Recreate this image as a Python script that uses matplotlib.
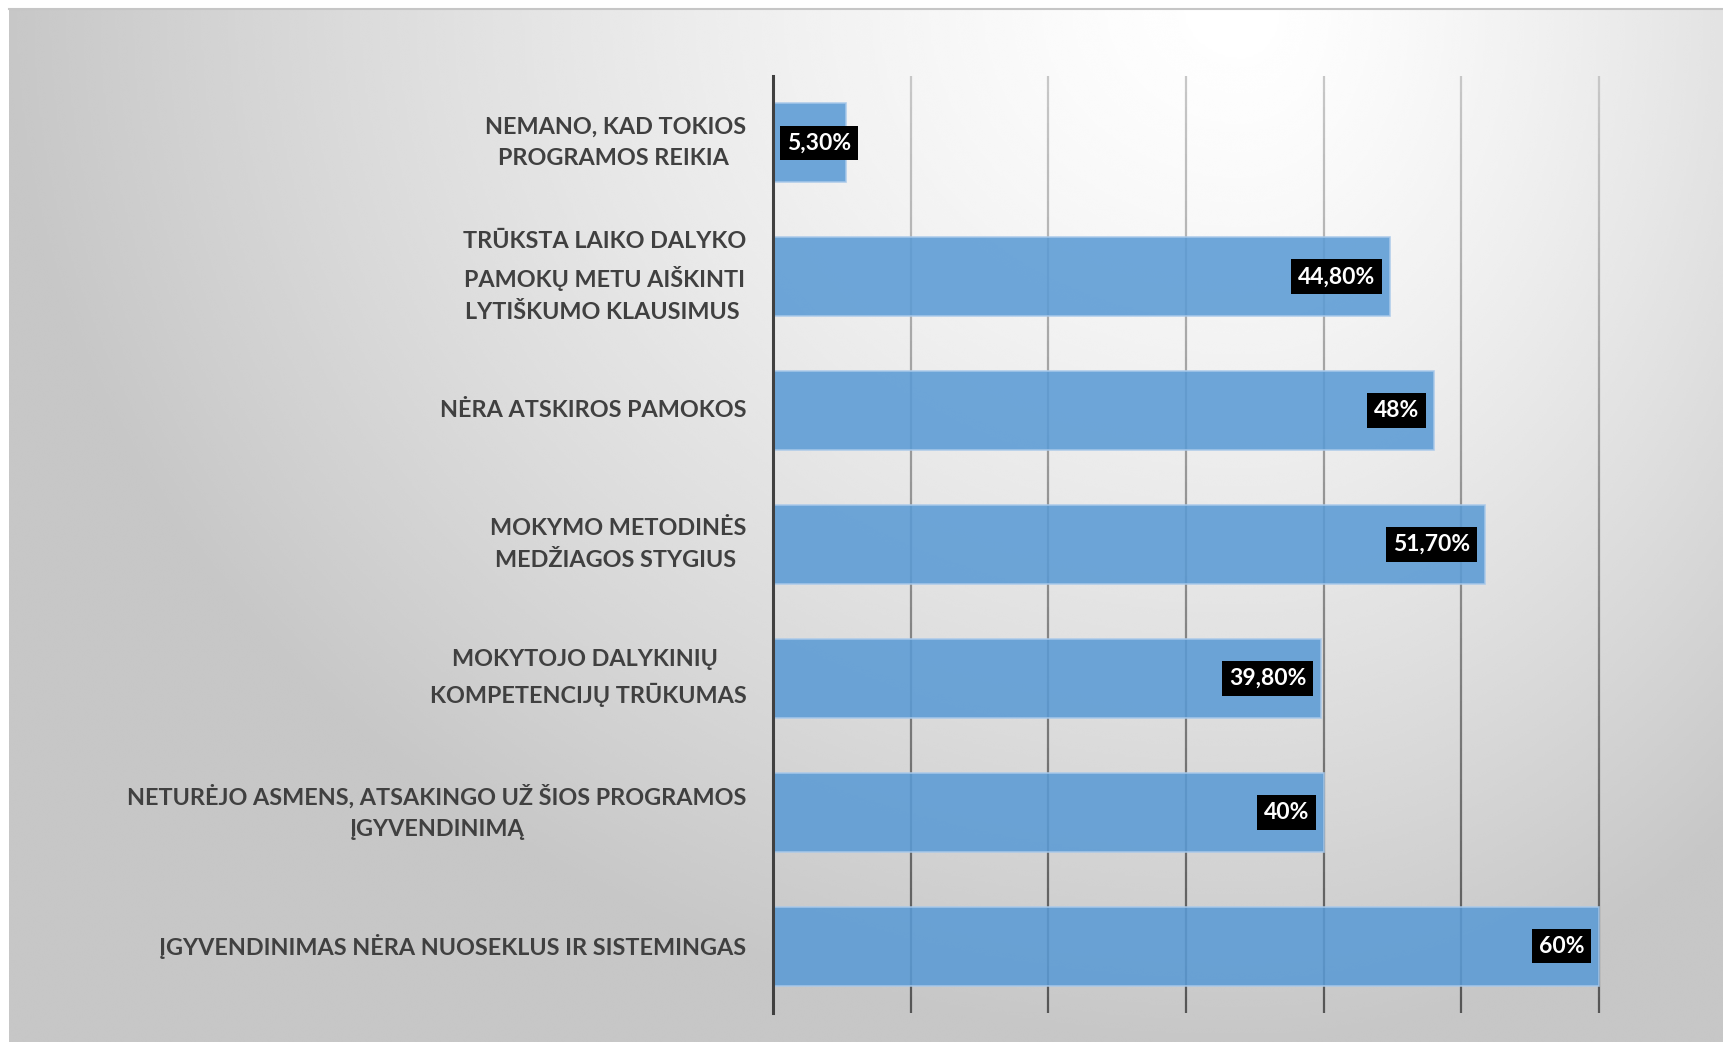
import numpy as np
import matplotlib
matplotlib.use("Agg")
import matplotlib.pyplot as plt
from matplotlib.collections import LineCollection

plt.rcParams['font.family'] = ['Lato', 'DejaVu Sans']

# duomenys
categories = [
    "NEMANO, KAD TOKIOS\nPROGRAMOS REIKIA ",
    "TRŪKSTA LAIKO DALYKO\nPAMOKŲ METU AIŠKINTI\nLYTIŠKUMO KLAUSIMUS ",
    "NĖRA ATSKIROS PAMOKOS",
    "MOKYMO METODINĖS\nMEDŽIAGOS STYGIUS ",
    "MOKYTOJO DALYKINIŲ \nKOMPETENCIJŲ TRŪKUMAS",
    "NETURĖJO ASMENS, ATSAKINGO UŽ ŠIOS PROGRAMOS\nĮGYVENDINIMĄ",
    "ĮGYVENDINIMAS NĖRA NUOSEKLUS IR SISTEMINGAS",
]
values = [5.3, 44.8, 48, 51.7, 39.8, 40, 60]
value_labels = ["5,30%", "44,80%", "48%", "51,70%", "39,80%", "40%", "60%"]
grid_ticks = [0, 10, 20, 30, 40, 50, 60]

W, H = 1724, 1042
fig = plt.figure(figsize=(W / 100, H / 100), dpi=100)

# fonas - pilkas gradientas
bg = fig.add_axes([9 / W, 0, 1 - 9 / W, 1 - 9 / H], zorder=-10)
yy, xx = np.mgrid[0:1:400j, 0:1:700j]
cx = 0.72
dx = np.where(xx < cx, (cx - xx) / cx, (xx - cx) / (1 - cx) * 0.6)
dy = yy / 1.0
r = np.clip(np.sqrt(dx ** 2 + dy ** 2), 0, 1)
shade = (255 - 56 * r ** 1.35) / 255
bg.imshow(shade, cmap='gray', vmin=0, vmax=1, aspect='auto', interpolation='bicubic')
bg.set_axis_off()
fig.add_artist(plt.Line2D([9 / W, 1], [1 - 9 / H, 1 - 9 / H], color='#c6c6c6', lw=1.5))

ax = fig.add_axes([773 / W, 29 / H, (1601 - 773) / W, (1013 - 76) / H])
ax.patch.set_alpha(0)

y = np.arange(len(categories))
ax.barh(y, values, height=0.59, color='#5B9BD5', alpha=0.88,
        edgecolor='#a9c9ea', linewidth=1.2, zorder=3)

ax.set_xlim(0, 60.15)
ax.set_ylim(len(categories) - 0.5, -0.5)

# tinklelio linijos su gradientu
n_seg = 60
ts = np.linspace(0, 1, n_seg + 1)
top_c = np.array([0.78, 0.78, 0.78])
bot_c = np.array([0.33, 0.33, 0.33])
for g in grid_ticks[1:]:
    segs = [[(g, -0.5 + 7 * ts[i]), (g, -0.5 + 7 * ts[i + 1])] for i in range(n_seg)]
    cols = [top_c + (bot_c - top_c) * ts[i] for i in range(n_seg)]
    ax.add_collection(LineCollection(segs, colors=cols, linewidths=1.6, zorder=1,
                                     clip_on=False))

for s in ['top', 'right', 'bottom']:
    ax.spines[s].set_visible(False)
ax.spines['left'].set_color('#404040')
ax.spines['left'].set_linewidth(2.2)
ax.spines['left'].set_zorder(4)

ax.set_xticks([])
ax.set_yticks(y)
ax.set_yticklabels(categories, fontsize=16.8, fontweight='bold', color='#404040',
                   linespacing=1.65)
for lbl in ax.get_yticklabels():
    lbl.set_multialignment('center')
    lbl.set_verticalalignment('center')
ax.tick_params(axis='y', length=0, pad=19)

for yi, v, txt in zip(y, values, value_labels):
    if v < 10:
        ax.annotate(txt, xy=(0, yi), xytext=(10, 0), textcoords='offset points',
                    ha='left', va='center', fontsize=16.5, fontweight='bold', color='white',
                    bbox=dict(boxstyle='square,pad=0.3', fc='black', ec='none'), zorder=5)
    else:
        ax.annotate(txt, xy=(v, yi), xytext=(-10.5, 0), textcoords='offset points',
                    ha='right', va='center', fontsize=16.5, fontweight='bold', color='white',
                    bbox=dict(boxstyle='square,pad=0.3', fc='black', ec='none'), zorder=5)

fig.savefig('out.png', dpi=100, facecolor='white')
